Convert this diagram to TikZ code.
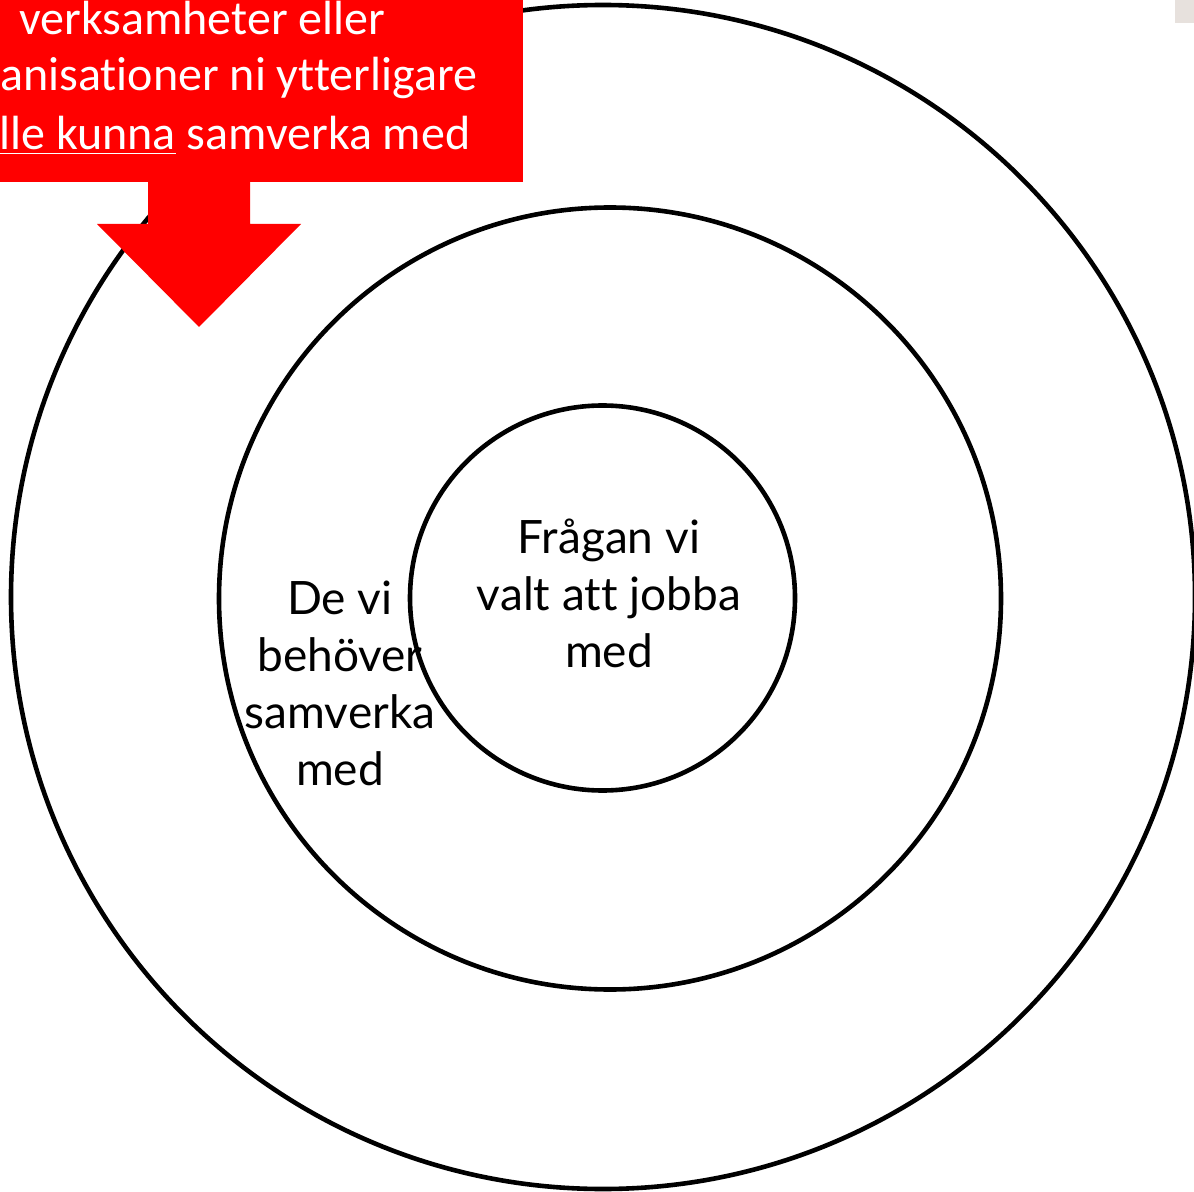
\documentclass[tikz,border=0pt]{standalone}
\usepackage{fontspec}
\setmainfont{Carlito}[Ligatures=CommonOff]
\newfontfamily\handfont{Lato}[Ligatures=CommonOff]
\definecolor{boxred}{RGB}{255,0,0}
\definecolor{cornergray}{RGB}{231,225,221}
\tikzset{
  ring/.style={circle, draw=black, line width=2.3pt, inner sep=0pt, outer sep=0pt},
  boxtext/.style={text=white, inner sep=0pt, font=\fontsize{24}{28.75}\selectfont},
  handtext/.style={text=black, inner sep=0pt, align=center, font=\handfont\fontsize{23}{28.5}\selectfont},
}
\begin{document}
\begin{tikzpicture}[x=0.5pt,y=-0.5pt]
\useasboundingbox (0,0) rectangle (1194,1192);
\begin{scope}
\clip (0,0) rectangle (1194,1192);
\node[ring, minimum size=592pt] (outer) at (603,597) {};
\node[ring, minimum size=391pt] (middle) at (610,598.5) {};
\node[ring, minimum size=192.5pt] (inner) at (602.5,598) {};
\fill[cornergray] (1175,0) rectangle (1194,23);
\node[fill=boxred, inner sep=0pt, minimum width=270pt, minimum height=96pt, anchor=south east] (box) at (523,182) {};
\fill[boxred] (148,180) -- (250,180) -- (250,224) -- (301,224) -- (199,327) -- (97,224) -- (148,224) -- cycle;
\node[boxtext, anchor=base west] (t1) at (19,35) {verksamheter eller};
\node[boxtext, anchor=base west] (t2) at (0,91) {anisationer ni ytterligare};
\node[boxtext, anchor=base west] (t3) at (-1,150) {\underline{lle kunna} samverka med};
\node[handtext] (q) at (609,593) {Frågan vi\\valt att jobba\\med};
\node[handtext] (d) at (340,683) {De vi\\behöver\\samverka\\med};
\end{scope}
\end{tikzpicture}
\end{document}
